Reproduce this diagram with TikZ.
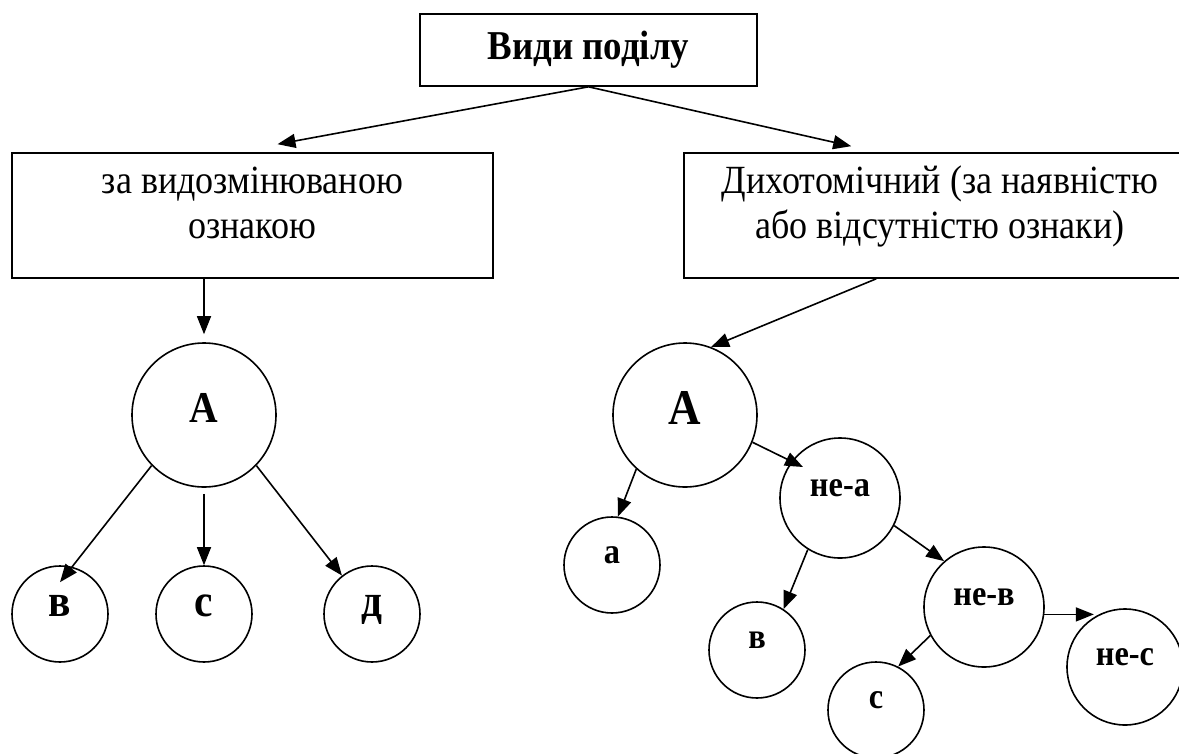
\documentclass[tikz,border=0pt]{standalone}
\usepackage{fontspec}
\setmainfont{Liberation Serif}[FakeStretch=0.9]
\usetikzlibrary{arrows.meta}
\tikzset{>={Triangle[length=18pt,width=14pt]}}

\begin{document}
\begin{tikzpicture}[
                x=1pt, y=-1pt, line width=1.6pt,
                every node/.style={draw, inner sep=0pt},
                headbox/.style={rectangle, minimum width=337pt, minimum height=72pt,
                    font=\fontsize{41}{46}\selectfont\bfseries},
                kindbox/.style={rectangle, minimum height=125pt, align=center, text depth=26pt,
                    font=\fontsize{40}{45}\selectfont},
                bigset/.style={circle, minimum size=144pt, text depth=14pt,
                    font=\fontsize{#1}{#1}\selectfont\bfseries},
                leftset/.style={circle, minimum size=96pt, text depth=16pt,
                    font=\fontsize{46}{46}\selectfont\bfseries},
                subset/.style={circle, minimum size=#1, text depth=20pt,
                    font=\fontsize{36}{36}\selectfont\bfseries}
            ]
            \useasboundingbox (0,0) rectangle (1179,753);
            \clip (0,0) rectangle (1179,753);

            \node[headbox] (vidy) at (588.5,50) {Види поділу};
            \node[kindbox, minimum width=481pt] (vzm) at (252.5,215.5) {за видозмінюваною\\ознакою};
            \node[kindbox, minimum width=512pt] (dyx) at (940,215.5) {Дихотомічний (за наявністю\\або відсутністю ознаки)};

            \node[bigset=44] (lA) at (204,415) {А};
            \foreach \n/\x/\t in {lb/60/в, lc/204/с, ld/372/д} {
                \node[leftset] (\n) at (\x,614) {\t};
            }

            \node[bigset=50] (rA) at (685,415) {А};
            \node[subset=96pt] (ra) at (612,565) {а};
            \node[subset=120pt] (nea) at (840,498) {не-а};
            \node[subset=96pt] (rb) at (757,650) {в};
            \node[subset=120pt] (neb) at (984,607) {не-в};
            \node[subset=96pt] (rc) at (876,710) {с};
            \node[subset=116pt] (nec) at (1125,667) {не-с};

            \draw[->] (vidy.south) -- ([xshift=25pt,yshift=8pt]vzm.north);
            \draw[->] (vidy.south) -- ([xshift=168pt,yshift=6pt]dyx.north west);

            \draw[->] (vzm.south -| lA) -- ([yshift=8pt]lA.north);
            \draw[->] (lA.224) -- ([yshift=-17pt]lb.north);
            \draw[->] ([yshift=-6pt]lA.south) -- (lc.north);
            \draw[->] (lA.316) -- (ld.128);

            \draw[->] ([xshift=193pt]dyx.south west) -- (rA.69);
            \draw[->] (rA.228) -- (ra.83);
            \draw[->] (rA.338) -- ([xshift=-37pt,yshift=31pt]nea.center);
            \draw[->] (nea.238) -- (rb.57);
            \draw[->] (nea.333) -- (neb.131);
            \draw[->] (neb.353) -- (neb.353 -| nec.122);
            \draw[->] (neb.208) -- (rc.63);
        \end{tikzpicture}
\end{document}
